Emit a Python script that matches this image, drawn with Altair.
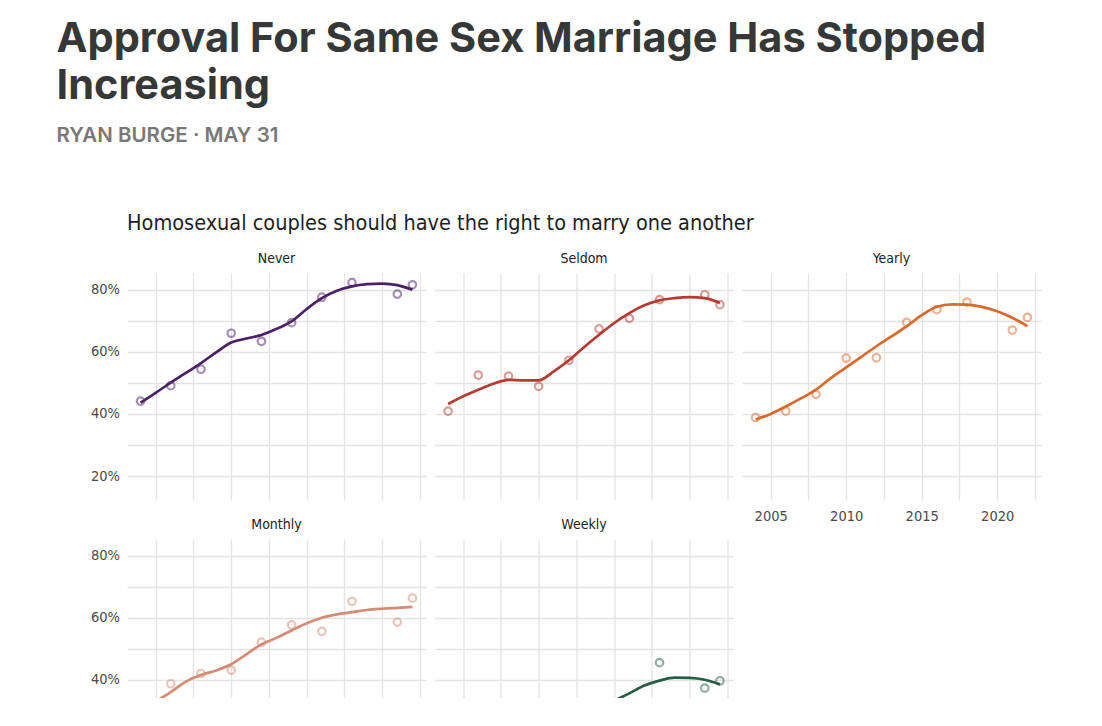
import altair as alt
import pandas as pd

# ---- data (percent) ----
years_obs = [2004, 2006, 2008, 2010, 2012, 2014, 2016, 2018, 2021, 2022]
never_obs = [44.1, 49.1, 54.4, 66.0, 63.4, 69.4, 77.6, 82.3, 78.6, 81.6]
seldom_obs = [40.9, 52.5, 52.2, 48.9, 57.3, 67.4, 70.8, 76.8, 78.4, 75.2]
yearly_obs = [38.8, 40.9, 46.3, 58.0, 58.1, 69.5, 73.6, 76.0, 67.0, 71.1]
monthly_obs = [30.5, 38.7, 42.0, 43.1, 52.1, 57.7, 55.6, 65.3, 58.6, 66.3]
weekly_obs = [16.0, 21.0, 20.5, 24.0, 27.0, 29.5, 31.5, 45.5, 37.3, 39.6]

# smoothed trend lines, read at every year
years_fit = list(range(2004, 2023))
never_fit = [43.6, 46.8, 50.1, 53.2, 56.4, 59.8, 63.0, 64.3, 65.4, 67.4, 69.8,
             73.8, 77.3, 79.7, 81.1, 81.8, 82.0, 81.5, 80.0]
seldom_fit = [43.2, 45.7, 47.8, 49.7, 51.0, 50.8, 50.8, 53.7, 57.3, 61.5, 65.5,
              69.3, 72.5, 75.0, 76.6, 77.3, 77.6, 77.3, 75.7]
yearly_fit = [38.2, 40.0, 42.4, 45.0, 47.8, 51.6, 55.0, 58.4, 61.8, 65.0, 68.2,
              71.8, 74.5, 75.3, 75.2, 74.5, 73.1, 71.0, 68.3]
monthly_fit = [30.0, 33.0, 36.0, 39.4, 41.5, 43.0, 45.0, 48.2, 51.4, 53.5, 55.9,
               58.2, 60.0, 61.1, 61.8, 62.5, 62.9, 63.2, 63.5]
weekly_fit = [17.0, 18.0, 19.0, 20.0, 21.0, 22.0, 23.5, 25.0, 26.5, 28.5, 30.5,
              33.2, 35.6, 38.1, 39.7, 40.7, 40.6, 40.0, 38.5]

panels = ["Never", "Seldom", "Yearly", "Monthly", "Weekly"]
obs_series = [never_obs, seldom_obs, yearly_obs, monthly_obs, weekly_obs]
fit_series = [never_fit, seldom_fit, yearly_fit, monthly_fit, weekly_fit]
line_colors = ["#4b2068", "#b63a2f", "#d96a2a", "#d48b74", "#275d45"]

headline = ["Approval For Same Sex Marriage Has Stopped", "Increasing"]
byline = "RYAN BURGE \u00b7 MAY 31"
chart_title = "Homosexual couples should have the right to marry one another"

FONT_C = "Liberation Sans Narrow, DejaVu Sans Condensed, sans-serif"
FONT_H = "Inter, Roboto, sans-serif"
GRID = "#e4e4e4"

x_domain = [2003.1, 2022.9]
x_grid = [2005, 2007.5, 2010, 2012.5, 2015, 2017.5, 2020, 2022.5]


def panel(i, show_y, show_x, height, ydom, ygrid):
    obs_df = pd.DataFrame({"year": years_obs, "share": [v / 100 for v in obs_series[i]]})
    fit_df = pd.DataFrame({"year": years_fit, "share": [v / 100 for v in fit_series[i]]})
    xaxis = alt.Axis(values=x_grid,
                     labelExpr="datum.value % 5 === 0 ? format(datum.value, 'd') : ''",
                     labels=show_x, ticks=False, domain=False, grid=True, title=None,
                     labelFont=FONT_C, labelFontSize=14.5, labelColor="#4a4a4a",
                     labelPadding=9, gridColor=GRID, gridWidth=1.3)
    yaxis = alt.Axis(values=ygrid,
                     labelExpr="round(datum.value*100) % 20 === 0 ? format(datum.value, '.0%') : ''",
                     labels=show_y, ticks=False, domain=False, grid=True, title=None,
                     labelFont=FONT_C, labelFontSize=14.5, labelColor="#4a4a4a",
                     labelPadding=7.5, gridColor=GRID, gridWidth=1.3)
    x = alt.X("year:Q", scale=alt.Scale(domain=x_domain, nice=False, zero=False), axis=xaxis)
    y = alt.Y("share:Q", scale=alt.Scale(domain=ydom, nice=False, zero=False), axis=yaxis)
    pts = alt.Chart(obs_df).mark_point(shape="circle", filled=False, color=line_colors[i],
                                       opacity=0.5, size=56, strokeWidth=2.2,
                                       clip=True).encode(x=x, y=y)
    line = alt.Chart(fit_df).mark_line(color=line_colors[i], strokeWidth=2.7,
                                       interpolate="monotone", clip=True).encode(x=x, y=y)
    return alt.layer(pts, line).properties(
        width=299, height=height,
        title=alt.TitleParams(panels[i], font=FONT_C, fontSize=14, fontWeight="normal",
                              color="#222222", offset=7.5))


top_dom = [0.1227, 0.854]
bot_dom = [0.341, 0.854]
top_grid = [0.2, 0.3, 0.4, 0.5, 0.6, 0.7, 0.8]
bot_grid = [0.4, 0.5, 0.6, 0.7, 0.8]

charts = [
    panel(0, True, False, 227, top_dom, top_grid),
    panel(1, False, False, 227, top_dom, top_grid),
    panel(2, False, True, 227, top_dom, top_grid),
    panel(3, True, False, 159, bot_dom, bot_grid),
    panel(4, False, False, 159, bot_dom, bot_grid),
]

grid = alt.concat(*charts, columns=3, spacing={"row": 39, "column": 8.5},
                  bounds="flush").properties(
    title=alt.TitleParams(chart_title, font=FONT_C, fontSize=21.5, fontWeight="normal",
                          color="#1e1e1e", anchor="start", frame="group", offset=17.5))

chart = alt.vconcat(grid).properties(
    title=alt.TitleParams(headline, font=FONT_H, fontSize=41.5, fontWeight=700,
                          color="#363737", anchor="start", lineHeight=47, dx=-34,
                          subtitle=byline, subtitleFont=FONT_H, subtitleFontSize=20.5,
                          subtitleFontWeight=600, subtitleColor="#787878",
                          subtitlePadding=19, offset=66),
    padding={"left": 48, "top": 10, "right": 5, "bottom": 0},
    background="white",
).configure_view(stroke=None)

chart.save("out.html", embed_options={"renderer": "svg", "actions": False})
